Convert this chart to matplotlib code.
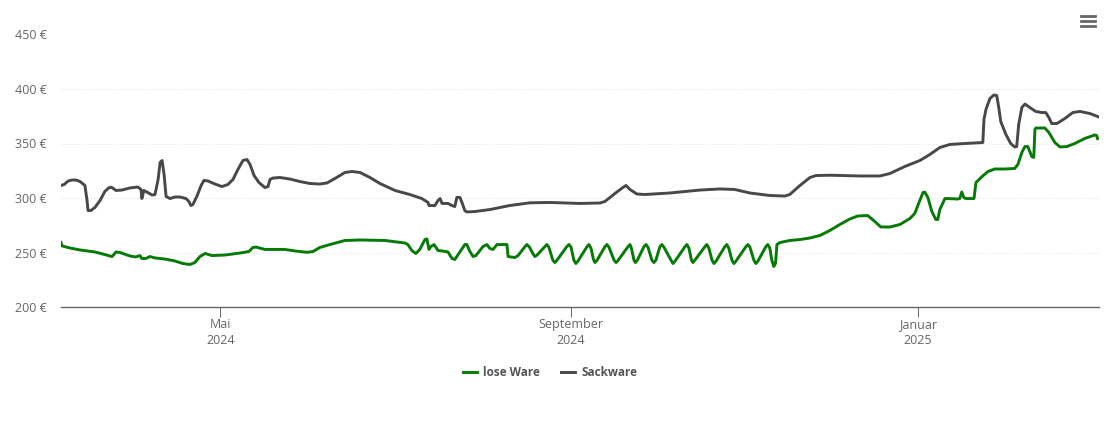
from matplotlib import pyplot as plt
from matplotlib.lines import Line2D
from matplotlib.ticker import FuncFormatter

plt.rcParams['font.family'] = ['Open Sans', 'DejaVu Sans']

# days since 2024-03-06
sack_days = [0, 1.1, 2.5, 3.9, 5.3, 6.7, 8.4, 9.1, 9.5, 10.5, 11.9, 13.7, 15.4, 16.9, 17.9, 19.3, 21.4, 24.2, 27.0, 28.1,
             28.4, 29.1, 30.5, 32.0, 33.0, 34.1, 34.8, 35.5, 36.2, 36.9, 38.3, 40.0, 41.8, 43.9, 44.9, 45.6, 46.3, 47.7,
             49.2, 50.2, 51.6, 54.1, 56.5, 58.6, 60.4, 62.1, 63.9, 65.3, 66.4, 67.8, 69.5, 71.6, 72.7, 73.4, 74.4, 76.9,
             80.4, 83.9, 87.4, 90.9, 93.4, 96.2, 99.7, 102.2, 105.0, 108.5, 112.0, 117.3, 122.5, 126.7, 128.9, 129.2,
             131.3, 132.4, 133.1, 133.8, 135.9, 137.3, 138.3, 139.0, 140.1, 140.8, 141.8, 142.5, 145.4, 150.6, 157.6,
             164.7, 171.7, 182.2, 189.2, 191.0, 194.5, 197.3, 198.4, 199.8, 202.2, 205.0, 213.8, 224.4, 231.4, 236.6,
             241.9, 248.9, 254.2, 255.9, 259.5, 263.0, 265.1, 270.0, 280.5, 287.6, 291.1, 296.3, 301.6, 305.1, 308.6,
             312.1, 317.4, 323.7, 324.1, 324.8, 326.2, 327.6, 328.6, 329.3, 330.0, 331.8, 333.5, 334.9, 335.6, 336.3,
             337.4, 338.5, 340.2, 342.3, 344.4, 345.8, 346.9, 347.9, 349.7, 352.5, 355.3, 357.8, 361.3, 364.5]
sack_prices = [311.5, 312.4, 315.6, 316.5, 316.5, 315.1, 311.5, 298.6, 288.5, 288.5, 291.3, 297.7, 306.0, 309.6, 309.6,
               306.9, 307.3, 309.2, 310.1, 307.8, 299.5, 306.9, 305.0, 302.7, 303.2, 317.0, 332.6, 334.4, 321.6, 301.4,
               299.5, 300.9, 300.9, 299.5, 296.8, 293.1, 294.0, 301.4, 311.5, 316.1, 315.6, 312.8, 310.5, 312.4, 317.0,
               326.1, 334.4, 335.3, 330.7, 320.6, 314.2, 309.6, 310.5, 317.0, 318.3, 318.8, 317.4, 315.1, 313.3, 312.8,
               313.8, 317.9, 323.4, 324.3, 323.4, 318.8, 313.3, 306.9, 303.2, 299.5, 295.9, 293.1, 293.1, 297.7, 299.5,
               295.0, 295.0, 293.1, 292.2, 300.5, 300.5, 295.9, 288.5, 287.2, 287.6, 289.4, 293.1, 295.6, 295.9, 295.0,
               295.4, 296.8, 304.1, 309.6, 311.5, 307.8, 303.7, 303.2, 304.6, 307.3, 308.3, 307.8, 304.6, 302.3, 301.8,
               303.2, 311.5, 318.8, 320.6, 320.9, 320.2, 320.2, 322.5, 328.9, 334.4, 339.9, 346.3, 349.1, 350.0, 350.9,
               372.0, 381.2, 391.3, 394.5, 394.0, 383.0, 370.2, 358.3, 350.0, 346.8, 347.2, 367.4, 383.0, 386.2, 383.0,
               379.4, 378.4, 378.4, 373.8, 368.3, 368.3, 372.9, 378.4, 379.4, 377.5, 374.3]

lose_days = [0, 0.4, 3.2, 6.7, 11.9, 14.7, 17.9, 18.6, 19.3, 20.7, 24.2, 26.3, 27.7, 28.4, 29.8, 31.2, 33.0, 36.5, 40.0,
             42.8, 45.3, 47.0, 48.8, 50.6, 53.0, 57.6, 62.8, 66.0, 67.4, 68.5, 71.6, 78.6, 82.2, 86.4, 88.5, 90.9, 94.4,
             99.7, 105.0, 113.8, 120.8, 121.8, 123.2, 124.6, 126.0, 127.8, 128.5, 129.2, 129.9, 131.0, 132.4, 133.8,
             135.9, 137.3, 138.3, 139.7, 141.8, 142.5, 143.6, 144.7, 145.7, 148.2, 149.6, 150.6, 151.7, 153.1, 156.6,
             157.0, 159.4, 160.5,
             162.9, 163.6, 164.5, 165.7, 166.4, 167.1, 169.9, 170.6, 171.3, 172.7, 173.4, 174.1,
             177.6, 178.4, 179.1, 180.1, 180.8, 181.5, 184.7, 185.4, 186.1, 187.0, 187.5, 188.2,
             191.0, 191.7, 192.4, 194.2, 194.9, 195.6, 199.1, 199.8, 200.3, 201.2, 201.7, 202.4,
             204.7, 205.4, 206.1, 207.5, 208.2, 208.9, 210.3, 211.0, 211.7, 214.2, 214.9, 215.6,
             219.1, 219.8, 220.5, 221.4, 221.9, 222.6, 226.1, 226.8, 227.5, 228.6, 229.3, 230.0,
             233.1, 233.8, 234.5, 235.6, 236.3, 237.0, 240.5, 241.2, 241.9, 243.3, 244.0, 244.7,
             247.5, 248.2, 248.9, 249.6, 250.3, 250.9, 251.4, 252.4,
             255.9, 259.5, 263.0, 266.5, 270.0, 273.5, 277.0, 279.8, 283.3, 285.8, 287.9, 291.1, 294.6, 298.1, 299.8,
             301.3, 302.7, 303.3, 304.4, 305.8, 307.2, 307.9, 308.6, 310.4, 311.1, 314.9, 315.6, 316.3, 317.0, 317.7,
             320.6, 321.3, 323.4, 325.5, 327.9, 331.4, 334.9, 336.0, 337.4, 338.5, 339.5, 340.9, 341.6, 342.0, 342.3,
             345.5, 346.9, 349.0, 350.8, 353.2, 356.0, 359.5, 363.0, 363.7, 364.0]
lose_prices = [259.2, 256.0, 254.1, 252.3, 250.5, 248.6, 246.3, 248.2, 250.5, 250.0, 246.8, 245.9, 247.2, 244.5, 244.5,
               246.3, 245.0, 244.0, 242.2, 239.9, 239.0, 240.8, 246.3, 249.1, 247.2, 247.7, 249.5, 250.9, 254.6, 255.0,
               252.8, 252.8, 251.4, 250.2, 250.9, 254.6, 257.3, 261.0, 261.5, 261.0, 258.7, 257.3, 251.8, 249.1, 252.8,
               261.9, 262.4, 252.8, 255.5, 257.3, 251.8, 251.4, 250.5, 244.5, 243.6, 249.1, 257.3, 257.3, 250.9, 246.3,
               247.2, 255.5, 257.3, 253.7, 252.8, 257.3, 257.3, 246.3, 245.4, 247.2,
               255.3, 257.3, 255.0, 249.0, 246.3, 247.5, 255.3, 257.3, 255.0, 243.0, 240.8, 242.7,
               255.3, 257.3, 255.0, 243.0, 239.9, 242.0, 255.3, 257.3, 254.0, 243.5, 240.8, 242.7,
               255.3, 257.3, 255.0, 243.0, 240.8, 242.7, 255.3, 257.3, 254.0, 243.0, 240.8, 243.0,
               255.3, 257.3, 255.0, 243.0, 240.8, 243.0, 255.3, 257.3, 255.0, 243.0, 239.9, 242.0,
               255.3, 257.3, 254.0, 243.0, 240.8, 243.0, 255.3, 257.3, 254.0, 243.0, 239.9, 242.0,
               255.3, 257.3, 254.0, 243.0, 239.9, 242.0, 255.3, 257.3, 255.0, 243.0, 239.9, 242.0,
               255.3, 257.3, 254.0, 243.0, 237.2, 240.0, 257.3, 259.1,
               261.0, 261.9, 263.3, 265.6, 270.2, 275.7, 280.7, 283.5, 283.9, 278.4, 273.4, 273.4, 275.7, 281.2, 285.8,
               295.9, 305.0, 305.5, 300.5, 287.6, 280.3, 280.3, 289.4, 299.5, 299.5, 299.1, 299.5, 305.5, 300.5, 299.5,
               299.5, 314.2, 319.6, 324.3, 326.6, 326.6, 327.1, 330.7, 341.7, 347.2, 347.2, 338.0, 337.2, 362.8, 364.2,
               364.2, 360.1, 350.9, 346.8, 347.2, 350.0, 354.6, 357.8, 357.3, 354.5]

y_ticks = [200, 250, 300, 350, 400, 450]
month_days = [56, 179, 301]
month_labels = ['Mai\n2024', 'September\n2024', 'Januar\n2025']

W, H = 1110, 422
fig = plt.figure(figsize=(W / 100, H / 100), dpi=100)
ax = fig.add_axes([61 / W, 1 - 307 / H, 1038 / W, 272.5 / H])

ax.plot(lose_days, lose_prices, color='#067a06', lw=2.1, label='lose Ware', solid_joinstyle='round')
ax.plot(sack_days, sack_prices, color='#484848', lw=2.1, label='Sackware', solid_joinstyle='round')

ax.set_xlim(0, 364.5)
ax.set_ylim(200, 450)
ax.set_yticks(y_ticks)
ax.yaxis.set_major_formatter(FuncFormatter(lambda v, p: '%d €' % v))
ax.set_xticks(month_days)
ax.set_xticklabels(month_labels, linespacing=1.3)
ax.tick_params(axis='y', length=0, pad=10, labelsize=9, labelcolor='#666666')
ax.tick_params(axis='x', length=7, width=0.7, color='#666666', pad=1, labelsize=9, labelcolor='#666666')
ax.grid(axis='y', color='#dddddd', lw=0.7, ls=(0, (1, 2)))
ax.set_axisbelow(True)
for s in ['top', 'right', 'left']:
    ax.spines[s].set_visible(False)
ax.spines['bottom'].set_color('#666666')
ax.spines['bottom'].set_linewidth(1.0)

leg = fig.legend(loc='center', bbox_to_anchor=(550 / W, 1 - 372.5 / H), ncol=2, frameon=False, handlelength=1.2,
                 handletextpad=0.55, columnspacing=1.75, prop={'size': 8.5, 'weight': 'bold'})
for t in leg.get_texts():
    t.set_color('#555555')

# menu icon
for y in [16, 21, 26]:
    fig.add_artist(Line2D([1081 / W, 1095 / W], [1 - y / H, 1 - y / H], color='#666666', lw=2.0))

fig.savefig('out.png', dpi=100)
